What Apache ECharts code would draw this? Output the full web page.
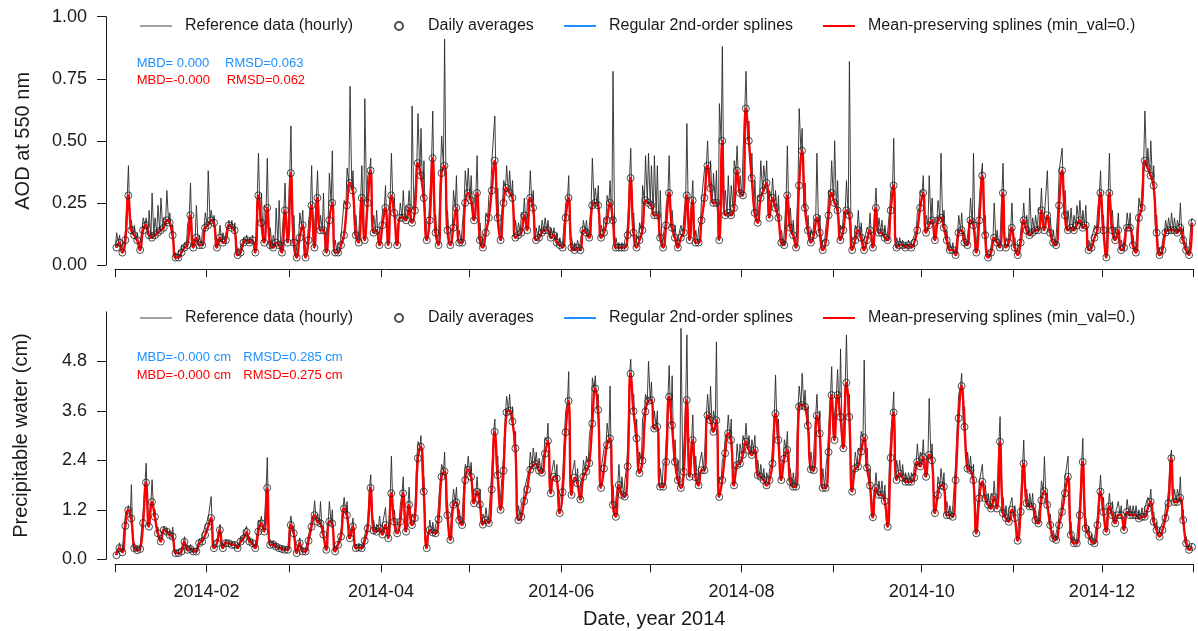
<!DOCTYPE html>
<html>
<head>
<meta charset="utf-8">
<script src="https://cdn.jsdelivr.net/npm/echarts@6/dist/echarts.min.js"></script>
<style>
  html, body { margin: 0; background: #fff; }
  #main { width: 1198px; height: 631px; }
</style>
</head>
<body>
<div id="main"></div>
<script>
// daily averages of AOD at 550 nm, one value per day of 2014
const aodDaily = [
  0.07,0.09,0.05,0.10,0.28,0.14,0.12,0.10,0.06,0.14,
  0.16,0.12,0.11,0.12,0.13,0.14,0.15,0.18,0.17,0.12,
  0.03,0.03,0.05,0.07,0.08,0.20,0.07,0.11,0.08,0.08,
  0.15,0.16,0.18,0.17,0.07,0.11,0.09,0.10,0.16,0.15,
  0.14,0.04,0.05,0.09,0.10,0.09,0.10,0.05,0.28,0.17,
  0.09,0.23,0.08,0.07,0.09,0.08,0.05,0.22,0.09,0.37,
  0.09,0.03,0.11,0.16,0.03,0.10,0.24,0.07,0.27,0.14,
  0.14,0.05,0.18,0.25,0.05,0.05,0.08,0.12,0.24,0.33,
  0.30,0.12,0.09,0.27,0.10,0.25,0.38,0.13,0.14,0.08,
  0.16,0.23,0.08,0.28,0.21,0.08,0.19,0.19,0.18,0.23,
  0.17,0.22,0.41,0.36,0.27,0.10,0.18,0.43,0.13,0.08,
  0.37,0.40,0.14,0.08,0.15,0.23,0.09,0.09,0.25,0.29,
  0.26,0.18,0.29,0.10,0.07,0.13,0.19,0.30,0.42,0.19,
  0.10,0.25,0.31,0.29,0.27,0.11,0.12,0.13,0.20,0.14,
  0.27,0.23,0.10,0.11,0.13,0.14,0.14,0.11,0.12,0.09,
  0.08,0.07,0.19,0.27,0.07,0.06,0.07,0.06,0.14,0.13,
  0.11,0.24,0.25,0.24,0.11,0.13,0.18,0.25,0.18,0.07,
  0.07,0.07,0.07,0.12,0.35,0.13,0.07,0.10,0.14,0.26,
  0.25,0.24,0.20,0.20,0.11,0.07,0.16,0.29,0.15,0.11,
  0.07,0.11,0.13,0.28,0.10,0.26,0.09,0.09,0.18,0.27,
  0.40,0.31,0.25,0.25,0.10,0.50,0.20,0.21,0.20,0.23,
  0.38,0.29,0.28,0.63,0.50,0.35,0.21,0.17,0.27,0.30,
  0.33,0.19,0.27,0.23,0.19,0.09,0.08,0.28,0.15,0.12,
  0.07,0.32,0.46,0.23,0.14,0.09,0.12,0.19,0.13,0.06,
  0.09,0.20,0.29,0.25,0.22,0.10,0.14,0.22,0.20,0.06,
  0.10,0.14,0.11,0.06,0.10,0.14,0.07,0.23,0.13,0.13,
  0.11,0.10,0.22,0.32,0.07,0.08,0.08,0.07,0.08,0.07,
  0.09,0.14,0.23,0.29,0.13,0.16,0.18,0.10,0.18,0.19,
  0.15,0.10,0.06,0.06,0.04,0.13,0.14,0.09,0.08,0.18,
  0.16,0.05,0.18,0.36,0.12,0.03,0.05,0.11,0.09,0.07,
  0.29,0.07,0.09,0.15,0.07,0.04,0.09,0.18,0.14,0.12,
  0.13,0.14,0.14,0.22,0.14,0.20,0.13,0.09,0.08,0.24,
  0.38,0.20,0.14,0.15,0.14,0.16,0.18,0.15,0.16,0.06,
  0.07,0.11,0.14,0.29,0.14,0.03,0.29,0.14,0.10,0.14,
  0.06,0.07,0.15,0.15,0.08,0.05,0.19,0.23,0.42,0.39,
  0.36,0.32,0.13,0.04,0.06,0.13,0.14,0.14,0.14,0.13,
  0.15,0.10,0.06,0.04,0.17
];
// highest hourly AOD of each day
const aodPeak = [
  0.13,0.12,0.08,0.14,0.40,0.18,0.16,0.13,0.10,0.19,
  0.19,0.22,0.29,0.19,0.24,0.27,0.19,0.30,0.21,0.16,
  0.05,0.06,0.08,0.09,0.16,0.33,0.10,0.24,0.12,0.13,
  0.21,0.38,0.22,0.20,0.10,0.16,0.13,0.13,0.18,0.18,
  0.17,0.07,0.08,0.11,0.12,0.11,0.12,0.08,0.45,0.29,
  0.24,0.43,0.15,0.12,0.23,0.26,0.12,0.33,0.14,0.56,
  0.20,0.08,0.21,0.22,0.08,0.18,0.40,0.15,0.38,0.20,
  0.29,0.12,0.37,0.46,0.10,0.09,0.12,0.26,0.39,0.72,
  0.38,0.20,0.14,0.40,0.67,0.36,0.43,0.20,0.22,0.14,
  0.22,0.32,0.12,0.45,0.27,0.14,0.25,0.30,0.24,0.30,
  0.64,0.30,0.61,0.55,0.42,0.17,0.28,0.62,0.20,0.14,
  0.52,0.91,0.22,0.14,0.30,0.36,0.14,0.16,0.38,0.39,
  0.36,0.27,0.44,0.17,0.12,0.21,0.28,0.42,0.60,0.31,
  0.16,0.34,0.40,0.38,0.34,0.18,0.17,0.21,0.27,0.25,
  0.38,0.30,0.15,0.16,0.18,0.19,0.18,0.15,0.15,0.13,
  0.11,0.10,0.25,0.36,0.11,0.09,0.10,0.10,0.18,0.18,
  0.16,0.43,0.31,0.32,0.16,0.19,0.28,0.34,0.78,0.11,
  0.09,0.09,0.10,0.18,0.47,0.21,0.12,0.17,0.32,0.44,
  0.45,0.40,0.44,0.40,0.30,0.12,0.24,0.44,0.22,0.16,
  0.11,0.16,0.20,0.57,0.18,0.34,0.14,0.15,0.27,0.39,
  0.50,0.42,0.37,0.38,0.65,0.88,0.30,0.36,0.32,0.42,
  0.48,0.36,0.45,0.78,0.58,0.45,0.34,0.28,0.42,0.40,
  0.42,0.30,0.35,0.30,0.28,0.14,0.14,0.48,0.23,0.18,
  0.12,0.63,0.55,0.33,0.20,0.14,0.18,0.45,0.20,0.10,
  0.15,0.30,0.42,0.50,0.34,0.16,0.21,0.34,0.82,0.11,
  0.16,0.22,0.17,0.10,0.15,0.21,0.11,0.31,0.19,0.18,
  0.16,0.14,0.30,0.51,0.11,0.11,0.10,0.09,0.10,0.09,
  0.12,0.21,0.30,0.36,0.20,0.36,0.27,0.15,0.26,0.45,
  0.22,0.14,0.09,0.09,0.07,0.20,0.21,0.13,0.12,0.27,
  0.45,0.09,0.26,0.41,0.20,0.06,0.08,0.25,0.14,0.11,
  0.41,0.11,0.14,0.25,0.11,0.07,0.14,0.25,0.20,0.31,
  0.19,0.20,0.23,0.31,0.20,0.38,0.19,0.14,0.12,0.38,
  0.47,0.30,0.22,0.23,0.20,0.24,0.26,0.22,0.24,0.10,
  0.11,0.16,0.22,0.38,0.20,0.07,0.45,0.22,0.15,0.21,
  0.10,0.11,0.21,0.21,0.12,0.08,0.27,0.30,0.62,0.47,
  0.50,0.40,0.20,0.07,0.10,0.18,0.19,0.21,0.19,0.18,
  0.25,0.15,0.09,0.07,0.19
];
// daily averages of precipitable water (cm)
const pwDaily = [
  0.10,0.27,0.17,0.81,1.19,0.99,0.27,0.22,0.25,0.88,
  1.86,0.79,1.39,1.03,0.63,0.43,0.71,0.67,0.59,0.55,
  0.15,0.15,0.19,0.42,0.23,0.25,0.19,0.19,0.39,0.43,
  0.59,0.79,1.00,0.27,0.39,0.71,0.27,0.39,0.39,0.35,
  0.35,0.27,0.43,0.50,0.66,0.43,0.39,0.27,0.67,0.87,
  0.67,1.73,0.35,0.36,0.31,0.27,0.25,0.23,0.23,0.83,
  0.63,0.15,0.39,0.19,0.19,0.45,0.79,1.07,0.91,0.87,
  0.60,0.23,0.91,0.87,0.19,0.35,0.55,1.23,1.07,0.51,
  0.79,0.27,0.29,0.27,0.45,0.75,1.73,0.70,0.67,0.75,
  0.60,0.83,0.51,1.60,0.91,0.63,0.91,1.60,0.67,1.32,
  0.83,1.00,2.45,2.73,1.64,0.27,0.71,0.65,0.63,0.97,
  2.00,2.13,1.07,0.47,1.32,1.38,0.95,0.83,1.92,2.17,
  2.00,1.36,1.64,1.33,0.84,0.95,0.88,1.69,3.09,2.04,
  1.20,2.15,3.56,3.60,3.34,2.69,0.95,1.03,1.41,1.69,
  2.17,2.27,2.31,2.15,2.10,2.56,2.87,1.60,2.00,1.96,
  1.12,1.63,3.08,3.84,1.56,1.98,1.84,1.45,2.00,2.13,
  2.33,3.29,4.14,3.62,1.73,2.20,2.77,2.93,1.32,1.03,
  1.80,1.56,1.52,2.25,4.50,3.59,2.93,2.09,2.39,3.58,
  3.84,3.86,3.17,3.21,1.76,1.76,2.36,3.94,3.25,2.36,
  1.92,1.73,2.12,3.86,2.00,2.89,1.99,1.79,2.16,2.16,
  3.49,3.37,3.09,3.37,1.51,1.92,2.57,3.05,2.89,1.79,
  2.28,2.32,2.53,2.85,2.65,2.53,2.65,2.04,2.00,1.92,
  1.79,1.92,2.32,3.53,2.89,1.92,2.44,2.65,1.88,1.76,
  1.76,3.70,3.74,3.70,3.24,2.18,2.16,3.48,3.05,1.73,
  1.73,2.60,3.98,2.89,3.98,3.45,2.69,4.28,3.45,1.64,
  2.20,2.25,2.61,2.95,2.22,1.79,1.02,1.73,1.56,1.56,
  1.41,0.79,2.46,3.56,1.92,2.08,1.98,1.88,1.88,1.88,
  1.98,2.36,2.25,2.48,2.00,2.53,2.40,1.12,1.56,1.79,
  1.76,1.07,1.07,1.03,1.92,3.42,4.20,3.21,2.20,2.16,
  1.92,0.63,1.48,1.88,1.48,1.32,1.23,1.51,1.23,2.85,
  1.12,1.00,0.91,1.20,1.00,0.45,1.15,2.32,1.36,1.28,
  1.28,0.95,0.87,1.43,1.65,1.32,0.83,0.51,0.47,0.83,
  1.15,1.60,2.00,0.59,0.39,0.39,1.07,2.36,0.75,0.59,
  0.43,0.39,0.83,1.64,1.15,0.67,1.28,1.07,0.87,1.07,
  1.07,0.71,1.15,1.07,1.07,1.07,0.99,1.03,1.03,1.23,
  1.39,0.91,0.71,0.55,0.71,1.00,1.36,2.45,1.39,1.39,
  1.49,0.95,0.39,0.23,0.30
];
// highest hourly precipitable water of each day (cm)
const pwPeak = [
  0.20,0.40,0.30,1.10,1.30,1.81,0.40,0.33,0.35,1.15,
  2.33,1.00,1.93,1.20,0.78,0.55,0.80,0.75,0.70,0.78,
  0.22,0.22,0.28,0.55,0.35,0.36,0.28,0.25,0.50,0.60,
  0.80,1.00,1.52,0.40,0.50,0.85,0.35,0.48,0.45,0.42,
  0.42,0.33,0.55,0.65,0.80,0.55,0.48,0.35,0.95,1.05,
  0.90,2.47,0.48,0.45,0.40,0.34,0.32,0.30,0.32,1.05,
  0.80,0.25,0.52,0.30,0.28,0.60,1.00,1.42,1.10,1.40,
  0.80,0.35,1.40,1.20,0.30,0.45,0.75,1.50,1.40,0.65,
  1.00,0.35,0.38,0.35,0.60,0.95,2.05,0.95,0.85,1.05,
  0.85,1.25,0.70,2.50,1.20,0.85,1.30,2.00,0.90,1.75,
  1.10,1.30,2.85,3.00,2.00,0.45,0.95,0.90,0.85,1.40,
  2.30,2.60,1.40,0.70,1.70,1.75,1.20,1.10,2.30,2.50,
  2.35,1.70,2.00,1.70,1.10,1.25,1.10,2.20,3.40,2.50,
  1.60,2.60,3.95,4.00,3.70,3.10,1.30,1.35,1.70,2.00,
  2.60,2.70,2.60,2.45,2.40,2.95,3.30,2.00,2.40,2.30,
  1.50,2.10,3.60,4.55,2.00,2.40,2.20,1.80,2.40,2.50,
  3.00,4.40,4.45,4.00,2.20,2.70,3.30,4.20,1.80,1.50,
  2.30,2.00,1.90,2.80,4.85,4.00,3.40,2.60,3.40,4.00,
  4.80,4.30,3.60,3.60,2.20,2.30,2.90,4.70,4.45,2.90,
  2.40,5.60,2.80,5.44,2.50,3.50,2.50,2.20,2.60,2.60,
  4.00,4.20,3.60,5.27,2.00,2.40,3.00,3.50,3.40,2.20,
  2.80,2.80,3.00,3.30,3.00,2.90,3.00,2.40,2.30,2.20,
  2.10,2.20,2.80,4.47,3.40,2.30,2.90,3.10,2.20,2.10,
  2.20,4.20,4.51,4.10,3.70,2.60,2.70,4.00,3.60,2.20,
  2.20,3.20,4.67,3.50,4.60,5.10,3.20,5.44,4.00,2.10,
  2.60,2.70,3.10,4.83,2.70,2.20,1.40,2.10,1.90,1.90,
  1.80,1.10,3.00,4.06,2.40,2.40,2.30,2.10,2.10,2.10,
  2.30,2.80,2.60,2.90,2.40,3.90,2.80,1.50,2.00,2.20,
  2.10,1.40,1.30,1.30,2.40,4.00,4.51,3.70,2.60,2.50,
  2.30,1.00,1.90,2.30,1.80,1.60,1.60,1.90,1.60,3.46,
  1.50,1.30,1.20,1.50,1.30,0.70,1.50,2.89,1.70,1.60,
  1.60,1.20,1.10,1.90,2.49,1.60,1.10,0.70,0.65,1.10,
  1.50,2.00,2.50,0.90,0.55,0.55,1.40,2.93,1.00,0.80,
  0.60,0.55,1.10,2.04,1.50,0.90,1.60,1.40,1.10,1.40,
  1.30,0.95,1.45,1.30,1.30,1.30,1.20,1.25,1.25,1.50,
  1.70,1.15,0.90,0.70,0.90,1.30,1.70,2.65,1.70,1.70,
  2.00,1.20,0.55,0.35,0.40
];

const dateLabels = ['2014-02', '2014-04', '2014-06', '2014-08', '2014-10', '2014-12'];
const aodTicks = [0, 0.25, 0.5, 0.75, 1];
const pwTicks = [0, 1.2, 2.4, 3.6, 4.8];

const legendNames = ['Reference data (hourly)', 'Daily averages', 'Regular 2nd-order splines', 'Mean-preserving splines (min_val=0.)'];

// x is measured in days since 2014-01-01
const DAY = 86400000;
const t0 = Date.UTC(2014, 0, 1);
const font = 'Liberation Sans, Arial, sans-serif';
const ink = '#1a1a1a';

function dayOf(y, m) { return Math.round((Date.UTC(y, m, 1) - t0) / DAY); }

const monthTicks = [];
for (let m = 0; m <= 12; m++) monthTicks.push(dayOf(2014, m));
const labelTicks = dateLabels.map(s => dayOf(+s.slice(0, 4), +s.slice(5) - 1));

function dailyPts(arr) {
  return arr.map((v, i) => [i + 0.5, v]);
}
function hourlyPts(avg, peak) {
  const out = [];
  avg.forEach((v, i) => {
    out.push([i + 0.15, v]);
    out.push([i + 0.55, peak[i]]);
  });
  return out;
}

function panelSeries(k, avg, peak) {
  return [
    {
      name: legendNames[0], type: 'line', xAxisIndex: k, yAxisIndex: k,
      data: hourlyPts(avg, peak), symbol: 'none', z: 1,
      lineStyle: { color: '#2a2a2a', width: 0.9 }, itemStyle: { color: '#444' }
    },
    {
      name: legendNames[2], type: 'line', xAxisIndex: k, yAxisIndex: k,
      data: dailyPts(avg), symbol: 'none', smooth: 0.35, z: 2,
      lineStyle: { color: '#1e90ff', width: 1.5 }, itemStyle: { color: '#1e90ff' }
    },
    {
      name: legendNames[3], type: 'line', xAxisIndex: k, yAxisIndex: k,
      data: dailyPts(avg), symbol: 'none', smooth: 0.5, z: 3,
      lineStyle: { color: '#ff0000', width: 2.4 }, itemStyle: { color: '#ff0000' }
    },
    {
      name: legendNames[1], type: 'scatter', xAxisIndex: k, yAxisIndex: k,
      data: dailyPts(avg), symbol: 'circle', symbolSize: 7, z: 4,
      itemStyle: { color: 'rgba(0,0,0,0)', borderColor: '#222', borderWidth: 1 }
    }
  ];
}

function xAxisOf(k, withLabels, offset) {
  return {
    type: 'value', gridIndex: k, min: 0, max: 365, offset: offset,
    axisLine: { show: true, onZero: false, lineStyle: { color: ink, width: 1 } },
    axisTick: { show: true, customValues: monthTicks, length: 8, lineStyle: { color: ink } },
    axisLabel: {
      show: withLabels, customValues: labelTicks,
      formatter: v => dateLabels[labelTicks.indexOf(v)] || '',
      fontSize: 18, color: ink, fontFamily: font, margin: 19
    },
    splitLine: { show: false },
    name: withLabels ? 'Date, year 2014' : '',
    nameLocation: 'middle', nameGap: 45,
    nameTextStyle: { fontSize: 20, color: ink, fontFamily: font }
  };
}

function yAxisOf(k, max, ticks, digits, title, gap) {
  return {
    type: 'value', gridIndex: k, min: 0, max: max, offset: 9,
    axisLine: { show: true, onZero: false, lineStyle: { color: ink, width: 1 } },
    axisTick: { show: true, customValues: ticks, length: 9, lineStyle: { color: ink } },
    axisLabel: {
      customValues: ticks, formatter: v => v.toFixed(digits),
      fontSize: 18, color: ink, fontFamily: font, margin: 19
    },
    splitLine: { show: false },
    name: title, nameLocation: 'middle', nameGap: gap,
    nameTextStyle: { fontSize: 20, color: ink, fontFamily: font }
  };
}

// a thin bar inside a 32x8 box, so legend line samples have no marker dot
function lineIcon(h) {
  const y = (8 - h) / 2;
  return 'path://M0,0h0.01v0.01h-0.01z M0,' + y + 'h32v' + h + 'h-32z M31.99,7.99h0.01v0.01h-0.01z';
}
const legendIcons = [lineIcon(1.2), null, lineIcon(2), lineIcon(2)];
const legendLeft = [140, 394, 564, 823];

// one legend per entry, so each sits where the reference puts it
function legendsAt(top) {
  return legendNames.map((name, i) => ({
    top: top, left: legendLeft[i] - 5, itemWidth: 32, itemHeight: 8,
    selectedMode: false,
    data: [legendIcons[i] ? { name: name, icon: legendIcons[i] } : { name: name }],
    textStyle: { fontSize: 16, color: ink, fontFamily: font, padding: [0, 0, 0, 8] }
  }));
}

function note(x, y, text, color) {
  return { type: 'text', x: x, y: y, style: { text: text, fill: color, font: '13px ' + font, verticalAlign: 'middle' } };
}

const chart = echarts.init(document.getElementById('main'));
chart.setOption({
  animation: false,
  backgroundColor: '#fff',
  grid: [
    { left: 115, right: 4.5, top: 16.7, height: 248.3 },
    { left: 115, right: 4.5, top: 311.8, height: 247.5 }
  ],
  legend: legendsAt(13).concat(legendsAt(305)),
  xAxis: [xAxisOf(0, false, 4.3), xAxisOf(1, true, 5)],
  yAxis: [
    yAxisOf(0, 1, aodTicks, 2, 'AOD at 550 nm', 73),
    yAxisOf(1, 6, pwTicks, 1, 'Precipitable water (cm)', 75)
  ],
  graphic: [
    note(136.7, 63.3, 'MBD= 0.000', '#1e90ff'),
    note(225, 63.3, 'RMSD=0.063', '#1e90ff'),
    note(136.7, 80.7, 'MBD=-0.000', '#ff0000'),
    note(226.7, 80.7, 'RMSD=0.062', '#ff0000'),
    note(136.7, 357.3, 'MBD=-0.000 cm', '#1e90ff'),
    note(243.3, 357.3, 'RMSD=0.285 cm', '#1e90ff'),
    note(136.7, 375, 'MBD=-0.000 cm', '#ff0000'),
    note(243.3, 375, 'RMSD=0.275 cm', '#ff0000')
  ],
  series: panelSeries(0, aodDaily, aodPeak).concat(panelSeries(1, pwDaily, pwPeak))
});
</script>
</body>
</html>
